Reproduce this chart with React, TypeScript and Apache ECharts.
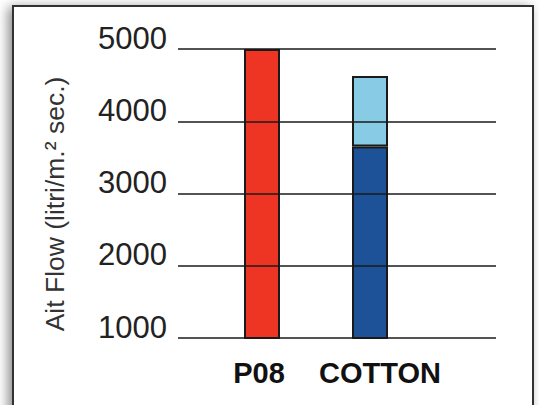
import React, { useEffect, useRef } from "react";
import * as echarts from "echarts";

const categories = ["P08", "COTTON"];
const p08Values = [5000, "-"];
const cottonBase = ["-", 3650];
const cottonExtra = ["-", 975];
const yTicks = { min: 1000, max: 5000, interval: 1000 };
const axisTitle = "Ait Flow (litri/m.² sec.)";

export default function App() {
  const ref = useRef<HTMLDivElement>(null);
  useEffect(() => {
    document.body.style.margin = "0";
    const chart = echarts.init(ref.current!, null, { renderer: "svg" });
    const font = "'Liberation Sans', Arial, sans-serif";
    const barBorder = { borderColor: "#1a1a1a", borderWidth: 2 };
    const catStyle = {
      fontSize: 29,
      fontWeight: 900,
      fontFamily: font,
      color: "#111111",
    };
    chart.setOption({
      animation: false,
      backgroundColor: "#ffffff",
      graphic: [
        {
          type: "rect",
          z: -10,
          shape: { x: 13, y: 6, width: 520, height: 420 },
          style: {
            fill: "#ffffff",
            stroke: "#333333",
            lineWidth: 2,
            shadowBlur: 12,
            shadowOffsetX: -4,
            shadowOffsetY: 2,
            shadowColor: "rgba(0,0,0,0.45)",
          },
        },
        {
          type: "text",
          x: 55,
          y: 204,
          rotation: Math.PI / 2,
          style: {
            text: axisTitle,
            fontSize: 26.5,
            fontFamily: font,
            fill: "#333333",
            align: "center",
            verticalAlign: "middle",
          },
        },
      ],
      grid: [
        { left: 178, top: 49, width: 318, height: 289, containLabel: false },
        { left: 208, top: 49, width: 216, height: 289, containLabel: false },
      ],
      xAxis: [
        { type: "category", gridIndex: 0, show: false, data: categories },
        {
          type: "category",
          gridIndex: 1,
          data: categories,
          axisLine: { show: false },
          axisTick: { show: false },
          axisLabel: {
            interval: 0,
            margin: 20,
            ...catStyle,
            formatter: (v: string) => (v === "COTTON" ? `{c|${v}}` : `{p|${v}}`),
            rich: {
              p: { ...catStyle, padding: [0, 6, 0, 0] },
              c: { ...catStyle, padding: [0, 0, 0, 20] },
            },
          },
        },
      ],
      yAxis: [
        {
          type: "value",
          gridIndex: 0,
          z: 10,
          min: yTicks.min,
          max: yTicks.max,
          interval: yTicks.interval,
          axisLine: { show: false },
          axisTick: { show: false },
          splitLine: { show: true, lineStyle: { color: "#1a1a1a", width: 1.6 } },
          axisLabel: {
            margin: 11,
            fontSize: 31,
            fontFamily: font,
            color: "#222222",
            verticalAlign: "bottom",
            lineHeight: 22,
            formatter: (v: number) => String(v),
          },
        },
        {
          type: "value",
          gridIndex: 1,
          show: false,
          min: yTicks.min,
          max: yTicks.max,
          interval: yTicks.interval,
          splitLine: { show: false },
        },
      ],
      series: [
        {
          name: "P08",
          type: "bar",
          xAxisIndex: 1,
          yAxisIndex: 1,
          stack: "total",
          barWidth: 36,
          data: p08Values,
          itemStyle: { color: "#ee3524", ...barBorder },
        },
        {
          name: "COTTON base",
          type: "bar",
          xAxisIndex: 1,
          yAxisIndex: 1,
          stack: "total",
          barWidth: 36,
          data: cottonBase,
          itemStyle: { color: "#1d5299", ...barBorder },
        },
        {
          name: "COTTON extra",
          type: "bar",
          xAxisIndex: 1,
          yAxisIndex: 1,
          stack: "total",
          barWidth: 36,
          data: cottonExtra,
          itemStyle: { color: "#87cbe5", ...barBorder },
        },
      ],
    });
    return () => chart.dispose();
  }, []);
  return (
    <div
      ref={ref}
      style={{ position: "absolute", left: 0, top: 0, width: 539, height: 405 }}
    />
  );
}
